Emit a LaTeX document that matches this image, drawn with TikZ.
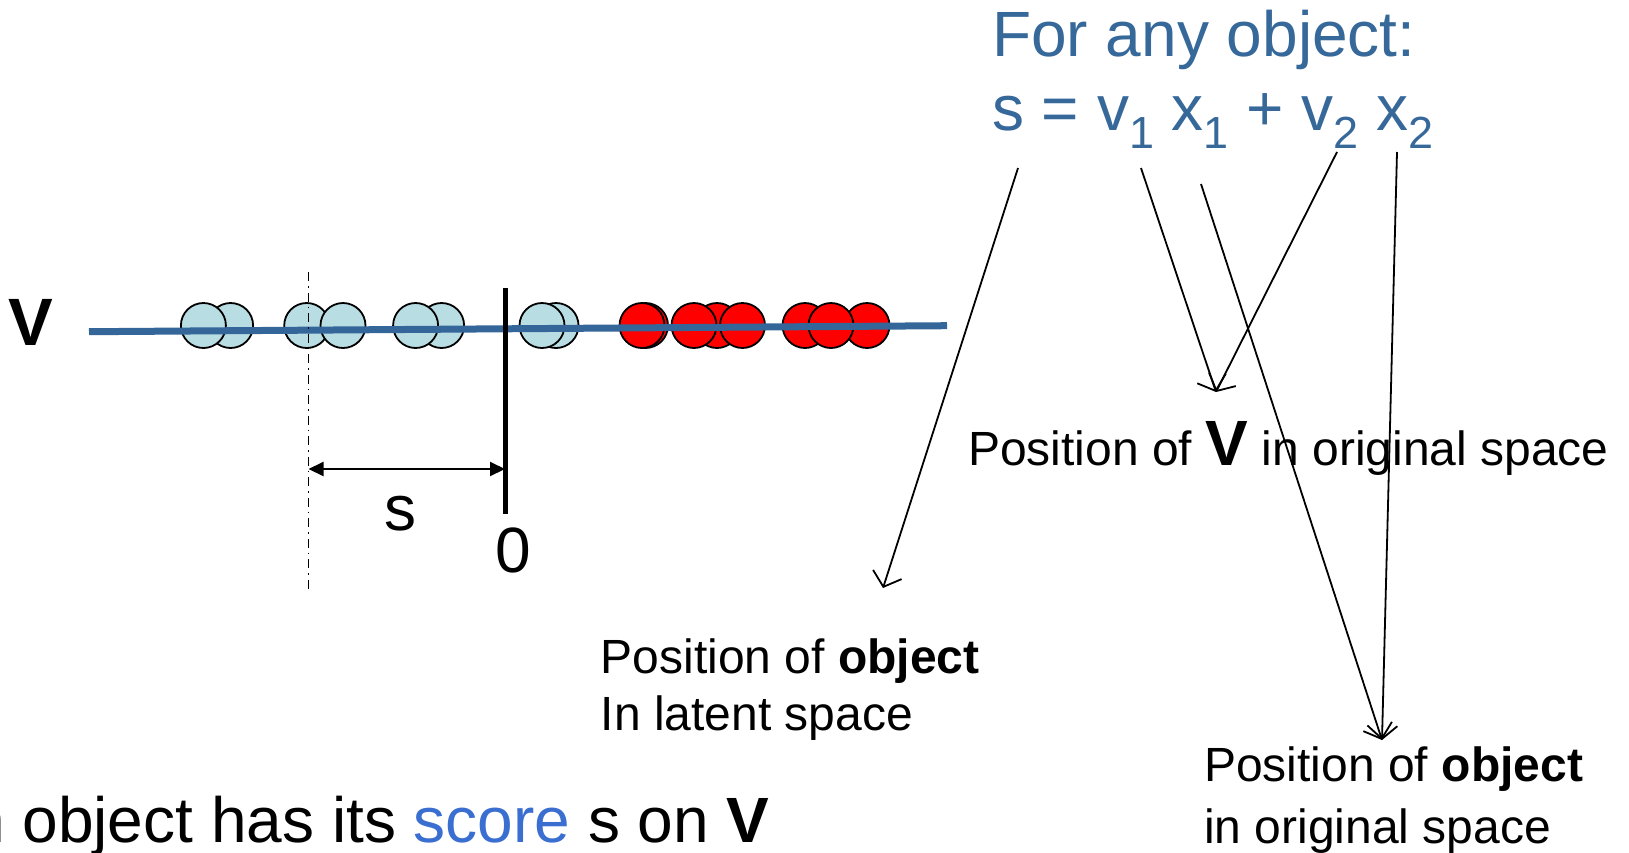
\documentclass[tikz,border=0pt]{standalone}
\usepackage{fontspec}
\setmainfont{Liberation Sans}
\usetikzlibrary{arrows.meta}
\definecolor{axisblue}{RGB}{52,102,153}
\definecolor{titleblue}{RGB}{54,104,154}
\definecolor{scoreblue}{RGB}{58,110,208}
\definecolor{lightcyan}{RGB}{184,222,228}
\newcommand\subidx[1]{\raisebox{-18pt}{\fontsize{45}{45}\selectfont #1}}
\tikzset{
  big/.style={font=\fontsize{64}{70}\selectfont, inner sep=0pt},
  mid/.style={font=\fontsize{48}{58}\selectfont, inner sep=0pt},
  obj/.style={circle, draw=black, line width=1.8pt, minimum size=45pt, inner sep=0pt},
  cyanobj/.style={obj, fill=lightcyan},
  redobj/.style={obj, fill=red},
  pointer/.style={line width=1.8pt, -{Straight Barb[length=13pt,width=30pt,line width=1.8pt]}},
}
\begin{document}
\begin{tikzpicture}[x=1pt,y=-1pt]
\useasboundingbox (0,0) rectangle (1629,852);

% objects projected on the axis
\node[cyanobj] (c1b) at (230.6,325.5) {};
\node[cyanobj] (c1a) at (203.4,325.5) {};
\node[cyanobj] (c2a) at (306.7,325.5) {};
\node[cyanobj] (c2b) at (343.0,325.5) {};
\node[cyanobj] (c3b) at (441.6,325.5) {};
\node[cyanobj] (c3a) at (415.6,325.5) {};
\node[cyanobj] (c4b) at (556.0,325.5) {};
\node[cyanobj] (c4a) at (542.0,325.5) {};
\node[redobj] (r1b) at (645.5,325.5) {};
\node[redobj] (r1a) at (642.0,325.5) {};
\node[redobj] (r2b) at (717.0,325.5) {};
\node[redobj] (r2a) at (694.0,325.5) {};
\node[redobj] (r2c) at (742.5,325.5) {};
\node[redobj] (r3a) at (805.0,325.5) {};
\node[redobj] (r3c) at (867.0,325.5) {};
\node[redobj] (r3b) at (831.0,325.5) {};

% latent axis V
\coordinate (axisL) at (89,331.7);
\coordinate (axisR) at (947,325.7);
\draw[axisblue, line width=7pt] (axisL) -- (axisR);
\node[big, font=\fontsize{67}{70}\selectfont\bfseries] (vlab) at (31,322) {V};

% origin and the score of one object
\coordinate (zeroTop) at (505,288);
\coordinate (zeroBot) at (505,514);
\draw[line width=5pt] (zeroTop) -- (zeroBot);
\coordinate (projTop) at (308.5,272);
\coordinate (projBot) at (308.5,589);
\draw[line width=1.3pt, dash pattern=on 9pt off 5pt on 1.5pt off 5pt] (projTop) -- (projBot);
\coordinate (sL) at (308.5,469);
\coordinate (sR) at (505,469);
\draw[line width=2pt, {Triangle[length=15pt,width=14pt]}-{Triangle[length=15pt,width=14pt]}] (sL) -- (sR);
\node[big, anchor=base] (slab) at (400,530) {s};
\node[big, anchor=base] (zlab) at (513,572.7) {0};

% formula
\node[big, anchor=base west, text=titleblue] (title) at (992,56.7) {For any object:};
\node[big, anchor=base west, text=titleblue] (formula) at (992,130)
  {s = v\subidx{1} x\subidx{1} + v\subidx{2} x\subidx{2}};

% explanations
\node[mid, anchor=base west] (posV) at (968,465) {Position of {\fontsize{64}{70}\selectfont\bfseries V} in original space};
\node[mid, anchor=base west] (latA) at (600.5,673.3) {Position of \textbf{object}};
\node[mid, anchor=base west] (latB) at (600.5,730.5) {In latent space};
\node[mid, anchor=base west] (orgA) at (1204,781.7) {Position of \textbf{object}};
\node[mid, anchor=base west] (orgB) at (1204,843) {in original space};
\node[big, anchor=base west] (bottom) at (-31,842) {n object has its \textcolor{scoreblue}{score} s on \textbf{V}};

% pointers from the formula terms
\coordinate (sTerm) at (1018,168);
\coordinate (vOne) at (1141,168);
\coordinate (xOne) at (1201,184);
\coordinate (vTwo) at (1337,152);
\coordinate (xTwo) at (1397,152);
\coordinate (latTip) at (883,588);
\coordinate (vTip) at (1216,392);
\coordinate (objTip) at (1382,740);
\draw[pointer] (sTerm) -- (latTip);
\draw[pointer] (vOne) -- (vTip);
\draw[pointer] (vTwo) -- (vTip);
\draw[pointer] (xOne) -- (objTip);
\draw[pointer] (xTwo) -- (objTip);
\end{tikzpicture}
\end{document}
